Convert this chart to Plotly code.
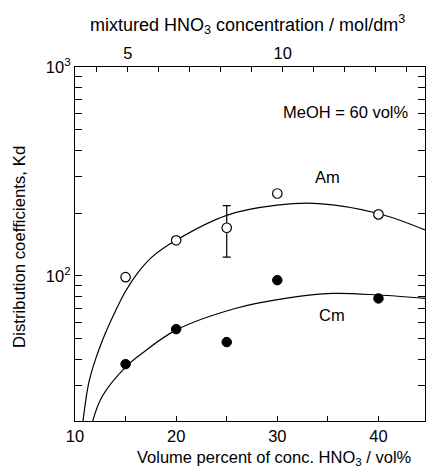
import math
import plotly.graph_objects as go

# ---- data ----
am_x = [15, 20, 25, 30, 40]
am_kd = [98.6, 148, 170, 248, 197]
cm_x = [15, 20, 25, 30, 40]
cm_kd = [37.8, 55.6, 48.2, 95.4, 78]
err_x = [25]
err_y = [170]
err_hi = [217]
err_lo = [123]

am_fit_x = [10.79, 11.35, 12.0, 12.99, 13.98, 14.97, 16.29, 17.6, 19.98, 25.0, 29.96, 34.07, 40.0, 44.6]
am_fit_kd = [20.2, 30.6, 39.5, 53, 67.6, 84, 104.7, 123, 148, 195, 218, 222, 199, 166]
cm_fit_x = [11.75, 12.67, 14.97, 16.6, 19.98, 25.84, 30.78, 35.5, 40.0, 44.6]
cm_fit_kd = [20.2, 26.4, 36.5, 42.5, 55, 69.8, 78, 82.4, 81, 78]

x_range = [10, 44.6]
top_range = [3.29, 14.6]
y_range = [20.2, 1000]
x_major = [10, 20, 30, 40]
x_minor = [15, 25, 35]
top_major = [5, 10]
top_minor = [4, 6, 7, 8, 9, 11, 12, 13, 14]
y_major = [100, 1000]
y_major_text = ["10<sup>2</sup>", "10<sup>3</sup>"]
y_minor = [30, 40, 50, 60, 70, 80, 90, 200, 300, 400, 500, 600, 700, 800, 900]

FONT = "Liberation Sans, Arial, sans-serif"
TICKFONT = dict(family=FONT, size=16.5, color="black")
fig = go.Figure()

fig.add_trace(go.Scatter(x=am_fit_x, y=am_fit_kd, mode="lines",
                         line=dict(color="black", width=1.2, shape="spline", smoothing=1.0),
                         showlegend=False, hoverinfo="skip"))
fig.add_trace(go.Scatter(x=cm_fit_x, y=cm_fit_kd, mode="lines",
                         line=dict(color="black", width=1.2, shape="spline", smoothing=1.0),
                         showlegend=False, hoverinfo="skip"))
fig.add_trace(go.Scatter(x=err_x, y=err_y, mode="markers",
                         marker=dict(size=1, color="rgba(0,0,0,0)"),
                         error_y=dict(type="data", symmetric=False,
                                      array=[h - c for h, c in zip(err_hi, err_y)],
                                      arrayminus=[c - l for l, c in zip(err_lo, err_y)],
                                      color="black", thickness=1.2, width=4),
                         showlegend=False))
fig.add_trace(go.Scatter(x=am_x, y=am_kd, mode="markers",
                         marker=dict(symbol="circle", size=9.5, color="white",
                                     line=dict(color="black", width=1.2)),
                         showlegend=False))
fig.add_trace(go.Scatter(x=cm_x, y=cm_kd, mode="markers",
                         marker=dict(symbol="circle", size=9.5, color="black",
                                     line=dict(color="black", width=1)),
                         showlegend=False))
# invisible trace to activate top axis
fig.add_trace(go.Scatter(x=top_range, y=[500, 500], xaxis="x2", mode="markers",
                         marker=dict(size=1, color="rgba(0,0,0,0)"),
                         showlegend=False, hoverinfo="skip"))

fig.update_layout(
    width=426, height=469,
    margin=dict(l=75, r=1, t=67, b=48),
    paper_bgcolor="white", plot_bgcolor="white",
    font=dict(family=FONT, size=16.5, color="black"),
    xaxis=dict(range=x_range, tickmode="array", tickvals=x_major,
               ticks="inside", ticklen=5, tickwidth=1.2, tickcolor="black",
               minor=dict(tickmode="array", tickvals=x_minor, ticks="inside",
                          ticklen=5, tickwidth=1.2, tickcolor="black", showgrid=False),
               showline=True, linecolor="black", linewidth=1.3, mirror=False,
               showgrid=False, zeroline=False, tickfont=TICKFONT),
    xaxis2=dict(range=top_range, overlaying="x", side="top", anchor="y",
                tickmode="array", tickvals=top_major,
                ticks="inside", ticklen=5, tickwidth=1.2, tickcolor="black",
                minor=dict(tickmode="array", tickvals=top_minor, ticks="inside",
                           ticklen=5, tickwidth=1.2, tickcolor="black", showgrid=False),
                showline=True, linecolor="black", linewidth=1.3,
                showgrid=False, zeroline=False, tickfont=TICKFONT),
    yaxis=dict(type="log", range=[math.log10(y_range[0]), math.log10(y_range[1])],
               tickmode="array", tickvals=y_major, ticktext=y_major_text,
               ticks="inside", ticklen=7, tickwidth=1.2, tickcolor="black",
               minor=dict(tickmode="array", tickvals=y_minor, ticks="inside",
                          ticklen=4, tickwidth=1, tickcolor="black", showgrid=False),
               showline=True, linecolor="black", linewidth=1.3, mirror="allticks",
               showgrid=False, zeroline=False, tickfont=TICKFONT),
)

annots = [
    dict(text="mixtured HNO<sub>3</sub> concentration / mol/dm<sup>3</sup>", x=0.494, y=1.119, size=18),
    dict(text="Volume percent of conc. HNO<sub>3</sub> / vol%", x=0.569, y=-0.105, size=16.5),
    dict(text="Distribution coefficients, Kd", x=-0.157, y=0.492, textangle=-90, size=16.8),
    dict(text="MeOH = 60 vol%", x=0.774, y=0.873, size=16.5),
    dict(text="Am", x=0.72, y=0.689, size=16.5),
    dict(text="Cm", x=0.734, y=0.299, size=16.5),
]
for a in annots:
    size = a.pop("size")
    fig.add_annotation(xref="paper", yref="paper", showarrow=False,
                       xanchor="center", yanchor="middle",
                       font=dict(family=FONT, size=size, color="black"), **a)

fig.write_html("out.html")
